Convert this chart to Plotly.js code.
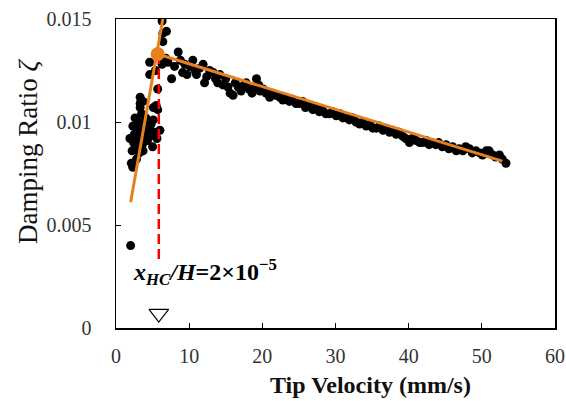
<!DOCTYPE html>
<html>
<head>
<meta charset="utf-8">
<script src="https://cdn.plot.ly/plotly-3.0.1.min.js"></script>
<style>html,body{margin:0;padding:0;background:#fff;}#chart{width:566px;height:401px;}</style>
</head>
<body>
<div id="chart"></div>
<script>
// Measured data: tip velocity (mm/s) vs damping ratio
const riseX = [2.0, 1.9, 2.1, 2.2, 2.3, 2.3, 2.4, 2.5, 2.6, 2.7, 2.8, 2.9, 3.0, 3.1, 3.2, 3.3, 3.3, 3.4, 3.5, 3.6, 3.7, 3.7, 3.8, 4.0, 4.1, 4.3, 4.5, 4.6, 4.8, 5.0, 5.1, 5.1, 5.3, 5.5, 5.6, 6.0, 3.3, 3.3, 4.6, 4.6, 5.4, 5.7, 5.7, 6.3, 6.4, 6.4, 6.9];
const riseY = [0.0040, 0.0092, 0.0080, 0.0086, 0.0078, 0.0098, 0.0090, 0.0094, 0.0102, 0.0088, 0.0082, 0.0096, 0.0091, 0.0100, 0.0085, 0.0109, 0.0093, 0.0097, 0.0104, 0.0089, 0.0086, 0.0110, 0.0099, 0.0094, 0.0102, 0.0091, 0.0097, 0.0093, 0.0099, 0.0088, 0.0107, 0.0101, 0.0095, 0.0108, 0.0092, 0.0096, 0.0112, 0.0107, 0.0123, 0.0129, 0.0125, 0.0116, 0.0106, 0.0149, 0.0143, 0.0139, 0.0144];

const fallX = [6.3, 6.8, 7.1, 7.6, 8.0, 8.5, 8.8, 9.1, 9.4, 9.7, 10.1, 10.5, 10.8, 11.0, 11.4, 11.9, 12.1, 12.4, 12.8, 13.3, 13.6, 13.9, 14.2, 14.6, 15.0, 15.3, 15.6, 16.0, 16.3, 16.7, 17.1, 17.5, 17.8, 18.2, 18.6, 19.0, 19.2, 19.5, 19.7, 20.1, 20.5, 21.0, 21.4, 21.8, 22.4, 22.8, 23.2, 23.7, 24.1, 24.6, 25.1, 25.5, 25.9, 26.4, 26.9, 27.3, 27.8, 28.2, 28.7, 29.2, 29.6, 30.1, 30.6, 31.0, 31.5, 31.9, 32.4, 32.8, 33.3, 33.7, 34.2, 34.7, 35.1, 35.6, 36.0, 36.5, 36.9, 37.4, 37.8, 38.3, 38.7, 39.2, 39.6, 40.1, 40.5, 41.0, 41.5, 41.9, 42.4, 42.8, 43.2, 43.7, 44.1, 44.6, 45.1, 45.5, 46.0, 46.5, 46.9, 47.4, 47.8, 48.3, 48.7, 49.2, 49.7, 50.1, 50.6, 51.0, 51.5, 51.9, 52.4, 52.8, 53.3];
const fallY = [0.0128, 0.0131, 0.0129, 0.0121, 0.0127, 0.0134, 0.0130, 0.0124, 0.0128, 0.0123, 0.0127, 0.0130, 0.0125, 0.0123, 0.0126, 0.0128, 0.0119, 0.0122, 0.0125, 0.0124, 0.0121, 0.0119, 0.0123, 0.0118, 0.0121, 0.0117, 0.0114, 0.0113, 0.0119, 0.0117, 0.0115, 0.0118, 0.0119, 0.0116, 0.0114, 0.0117, 0.0121, 0.0118, 0.0115, 0.0116, 0.0114, 0.0112, 0.0114, 0.0113, 0.0112, 0.01107, 0.0112, 0.0110, 0.0111, 0.0109, 0.0109, 0.0110, 0.0107, 0.0108, 0.0106, 0.0107, 0.0105, 0.0106, 0.0104, 0.0104, 0.0105, 0.0103, 0.0104, 0.0102, 0.0102, 0.0101, 0.0102, 0.0100, 0.0099, 0.0100, 0.0098, 0.0099, 0.0097, 0.0097, 0.0098, 0.0096, 0.0097, 0.0095, 0.0096, 0.0094, 0.0095, 0.0093, 0.0092, 0.0090, 0.0092, 0.0091, 0.0090, 0.0090, 0.0091, 0.0089, 0.0090, 0.0089, 0.0090, 0.0088, 0.0089, 0.0087, 0.0088, 0.0086, 0.0087, 0.0086, 0.0088, 0.0087, 0.0085, 0.0086, 0.0085, 0.0084, 0.0086, 0.0086, 0.0084, 0.0083, 0.0084, 0.0082, 0.0080];

// Fitted lines
const fitRiseX = [2.0, 6.55];
const fitRiseY = [0.0061, 0.0153];
const fitFallX = [5.7, 52.8];
const fitFallY = [0.0133, 0.0081];

// Transition point
const xhcX = [5.7];
const xhcY = [0.0133];
const xhcLineX = [5.85, 5.85];
const xhcLineY = [0.0133, 0.0033];
const markerY = [0.0007];

const orange = '#E8801E';
const serif = 'Liberation Serif, Times New Roman, serif';

const traces = [
  {x: riseX.concat(fallX), y: riseY.concat(fallY), mode: 'markers', type: 'scatter',
   marker: {color: '#000', size: 9}, hoverinfo: 'skip'},
  {x: xhcLineX, y: xhcLineY, mode: 'lines', type: 'scatter',
   line: {color: '#FF0000', width: 2.5, dash: '10px,5px'}},
  {x: fitRiseX, y: fitRiseY, mode: 'lines', type: 'scatter',
   line: {color: orange, width: 3}},
  {x: fitFallX, y: fitFallY, mode: 'lines', type: 'scatter',
   line: {color: orange, width: 3}},
  {x: xhcX, y: xhcY, mode: 'markers', type: 'scatter',
   marker: {color: orange, size: 14}},
  {x: [xhcLineX[0]], y: markerY, mode: 'markers', type: 'scatter',
   marker: {symbol: 'triangle-down-open', color: '#000', size: 17, line: {width: 1.2, color: '#000'}}}
];

const layout = {
  width: 566, height: 401,
  margin: {l: 116, r: 11, t: 19, b: 73},
  paper_bgcolor: '#fff', plot_bgcolor: '#fff',
  showlegend: false,
  font: {family: serif, color: '#222'},
  xaxis: {range: [0, 60], dtick: 10, tick0: 0, ticks: 'inside', ticklen: 5, tickcolor: '#000',
    showline: true, mirror: true, linecolor: '#000', linewidth: 1.5, showgrid: false, zeroline: false,
    tickfont: {family: serif, size: 20, color: '#333'}, ticklabelstandoff: 9},
  yaxis: {range: [0, 0.015], dtick: 0.005, tick0: 0, ticks: 'inside', ticklen: 5, tickcolor: '#000',
    showline: true, mirror: true, linecolor: '#000', linewidth: 1.5, showgrid: false, zeroline: false,
    tickfont: {family: serif, size: 20, color: '#333'}, ticklabelstandoff: 19},
  annotations: [
    {text: '<b>Tip Velocity (mm/s)</b>', xref: 'paper', yref: 'paper', x: 0.58, y: -0.183,
     xanchor: 'center', yanchor: 'middle', showarrow: false, font: {family: serif, size: 24, color: '#111'}},
    {text: 'Damping Ratio <i>ζ</i>', xref: 'paper', yref: 'paper', x: -0.2, y: 0.57, textangle: -90,
     xanchor: 'center', yanchor: 'middle', showarrow: false, font: {family: serif, size: 27, color: '#111'}},
    {text: '<b><i>x</i></b><sub><b><i>HC</i></b></sub><b><i>/H</i>=2×10</b><sup><b>−5</b></sup>',
     x: 2.1, y: 0.0027, xref: 'x', yref: 'y', xanchor: 'left', yanchor: 'middle', showarrow: false,
     font: {family: serif, size: 24, color: '#000'}}
  ]
};

Plotly.newPlot('chart', traces, layout, {staticPlot: true, displayModeBar: false});
</script>
</body>
</html>
